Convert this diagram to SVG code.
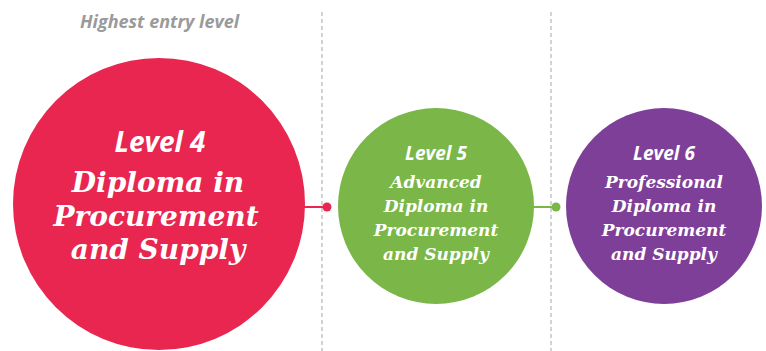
<svg xmlns="http://www.w3.org/2000/svg" width="766" height="351" viewBox="0 0 766 351">
<style>
.lvl{font-family:"Open Sans","Liberation Sans",sans-serif;font-weight:bold;font-style:italic;fill:#fff;text-anchor:middle}
.ttl{font-family:"DejaVu Serif","Liberation Serif",serif;font-weight:bold;font-style:italic;fill:#fff;text-anchor:middle}
.div{stroke:#b5b5b5;stroke-width:1.2;stroke-dasharray:4 3;fill:none}
</style>
<rect width="766" height="351" fill="#fff"/>
<text x="80" y="28" font-family="'Open Sans','Liberation Sans',sans-serif" font-weight="bold" font-style="italic" font-size="18" fill="#9a9a9a">Highest entry level</text>
<g id="dividers">
<line class="div" x1="322" y1="12" x2="322" y2="351"/>
<line class="div" x1="551" y1="12" x2="551" y2="351"/>
</g>
<g id="connectors">
<line x1="300" y1="207" x2="327" y2="207" stroke="#e8264f" stroke-width="2"/>
<circle cx="327" cy="207" r="4.5" fill="#e8264f"/>
<line x1="530" y1="207" x2="556" y2="207" stroke="#7ab648" stroke-width="2"/>
<circle cx="556" cy="207" r="4.5" fill="#7ab648"/>
</g>
<g id="level4">
<circle cx="159" cy="204" r="146" fill="#e8264f"/>
<text class="lvl" x="160" y="152" font-size="28">Level 4</text>
<text class="ttl" x="158" y="192" font-size="28">Diploma in</text>
<text class="ttl" x="156" y="226" font-size="28">Procurement</text>
<text class="ttl" x="158" y="259" font-size="28">and Supply</text>
</g>
<g id="level5">
<circle cx="436" cy="206" r="98" fill="#7ab648"/>
<text class="lvl" x="436" y="160" font-size="19">Level 5</text>
<text class="ttl" x="436" y="188" font-size="17">Advanced</text>
<text class="ttl" x="436" y="212" font-size="17">Diploma in</text>
<text class="ttl" x="436" y="236" font-size="17">Procurement</text>
<text class="ttl" x="436" y="260" font-size="17">and Supply</text>
</g>
<g id="level6">
<circle cx="664" cy="206" r="98" fill="#7e3f98"/>
<text class="lvl" x="664" y="160" font-size="19">Level 6</text>
<text class="ttl" x="664" y="188" font-size="17">Professional</text>
<text class="ttl" x="664" y="212" font-size="17">Diploma in</text>
<text class="ttl" x="664" y="236" font-size="17">Procurement</text>
<text class="ttl" x="664" y="260" font-size="17">and Supply</text>
</g>
</svg>
